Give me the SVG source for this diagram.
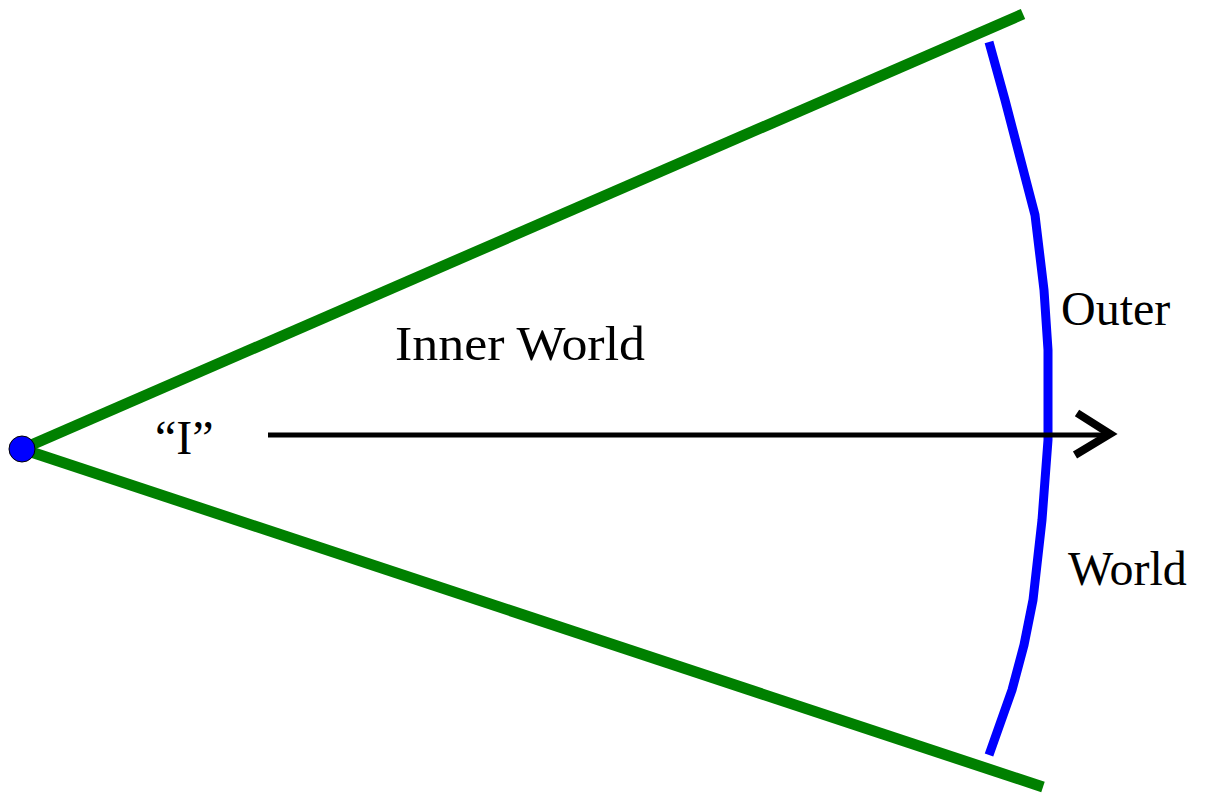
<svg xmlns="http://www.w3.org/2000/svg" width="1206" height="796" viewBox="0 0 1206 796">
<style>
.t{font-family:"Liberation Serif","Times New Roman",serif;font-size:48px;fill:#000}
.g{stroke:#008000;stroke-width:11;fill:none}
</style>
<rect width="1206" height="796" fill="#fff"/>
<g id="connectors">
<line class="g" x1="22" y1="449" x2="1023" y2="14"/>
<line class="g" x1="22" y1="449" x2="1043" y2="787"/>
<polyline points="989,42 1005,100 1035,215 1044,290 1048,350 1048,440 1042,520 1033,600 1024,645 1012,690 989,755" fill="none" stroke="#0000ff" stroke-width="9" stroke-linejoin="round"/>
<line x1="268" y1="435" x2="1108" y2="435" stroke="#000" stroke-width="5"/>
<polyline points="1077,413 1110,434 1075,455" fill="none" stroke="#000" stroke-width="8"/>
</g>
<g id="origin">
<circle cx="22" cy="449" r="13" fill="#0000ff" stroke="#000" stroke-width="1"/>
</g>
<g id="inner-world"><text class="t" x="395" y="360" font-size="49" textLength="250" lengthAdjust="spacingAndGlyphs">Inner World</text></g>
<g id="i-label"><text class="t" x="155" y="454" font-size="53">“I”</text></g>
<g id="outer"><text class="t" x="1061" y="325">Outer</text></g>
<g id="world"><text class="t" x="1068" y="585">World</text></g>
</svg>
